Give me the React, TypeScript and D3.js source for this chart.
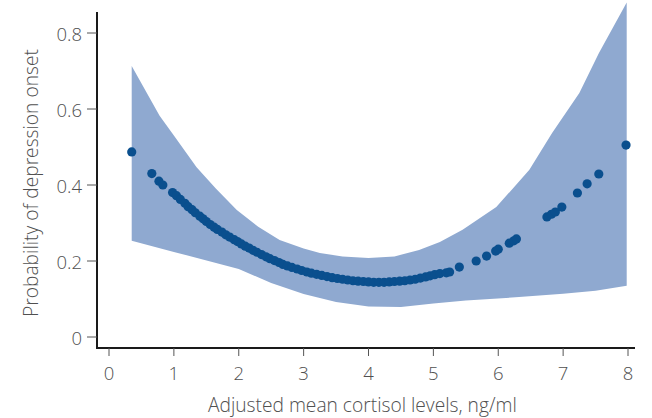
import React from "react";
import * as d3 from "d3";

const xTicks = [0, 1, 2, 3, 4, 5, 6, 7, 8];
const yTicks = [0, 0.2, 0.4, 0.6, 0.8];
const yTickLabels = ["0", "0.2", "0.4", "0.6", "0.8"];

const upperX = [0.35, 0.78, 1.0, 1.35, 1.65, 1.97, 2.3, 2.63, 3.0, 3.25, 3.6, 4.0, 4.4, 4.78, 5.1, 5.45, 5.97, 6.48, 6.83, 7.25, 7.55, 7.98];
const upperY = [0.713, 0.582, 0.53, 0.447, 0.39, 0.334, 0.29, 0.255, 0.233, 0.221, 0.212, 0.208, 0.212, 0.229, 0.25, 0.282, 0.342, 0.44, 0.537, 0.642, 0.747, 0.88];
const lowerX = [0.35, 1.0, 2.0, 2.5, 3.0, 3.5, 4.0, 4.5, 5.0, 5.5, 6.32, 7.0, 7.5, 7.98];
const lowerY = [0.253, 0.224, 0.179, 0.142, 0.113, 0.092, 0.08, 0.079, 0.088, 0.096, 0.105, 0.114, 0.122, 0.135];

const pointX = [0.35, 0.66, 0.77, 0.83, 0.98, 1.04, 1.1, 1.17, 1.22, 1.28, 1.33, 1.4, 1.45, 1.5, 1.56, 1.62, 1.67, 1.74, 1.8, 1.86, 1.93, 1.98, 2.04, 2.1, 2.16, 2.22, 2.28, 2.35, 2.42, 2.48, 2.55, 2.62, 2.68, 2.75, 2.82, 2.9, 2.97, 3.05, 3.12, 3.2, 3.28, 3.36, 3.44, 3.52, 3.6, 3.68, 3.76, 3.84, 3.92, 4.0, 4.08, 4.16, 4.24, 4.32, 4.4, 4.48, 4.56, 4.64, 4.72, 4.8, 4.88, 4.95, 5.02, 5.1, 5.2, 5.25, 5.4, 5.66, 5.82, 5.96, 6.0, 6.17, 6.24, 6.28, 6.75, 6.82, 6.88, 6.98, 7.22, 7.37, 7.55, 7.97];
const pointY = [0.487, 0.43, 0.41, 0.4, 0.38, 0.372, 0.362, 0.352, 0.343, 0.335, 0.327, 0.318, 0.311, 0.304, 0.296, 0.289, 0.283, 0.276, 0.269, 0.263, 0.256, 0.251, 0.245, 0.239, 0.234, 0.228, 0.223, 0.217, 0.211, 0.206, 0.201, 0.196, 0.191, 0.187, 0.183, 0.179, 0.175, 0.171, 0.168, 0.165, 0.162, 0.159, 0.156, 0.154, 0.152, 0.15, 0.148, 0.147, 0.146, 0.145, 0.144, 0.144, 0.144, 0.145, 0.146, 0.147, 0.148, 0.15, 0.152, 0.155, 0.158, 0.161, 0.164, 0.167, 0.169, 0.171, 0.184, 0.2, 0.213, 0.226, 0.231, 0.247, 0.253, 0.258, 0.316, 0.323, 0.329, 0.342, 0.379, 0.403, 0.429, 0.505];

const W = 652;
const H = 418;
const textColor = "#505050";
const font = "'Open Sans', 'Noto Sans', sans-serif";

export default function App() {
  const x = d3.scaleLinear().domain([0, 8]).range([109, 628]);
  const y = d3.scaleLinear().domain([0, 0.8]).range([337, 33]);

  const upper = upperX.map((v, i) => [x(v), y(upperY[i])] as [number, number]);
  const lower = lowerX.map((v, i) => [x(v), y(lowerY[i])] as [number, number]).reverse();
  const bandPath = d3.line().curve(d3.curveLinearClosed)([...upper, ...lower]) || "";

  const axisY = 348;
  const axisX = 97;

  return (
    <svg
      width={W}
      height={H}
      style={{ position: "absolute", left: 0, top: 0, background: "#fff" }}
      fontFamily={font}
    >
      <path d={bandPath} fill="#8fa9d0" />
      {pointX.map((px, i) => (
        <circle key={i} cx={x(px)} cy={y(pointY[i])} r={4.6} fill="#0a4f8e" />
      ))}
      <line x1={axisX} x2={axisX} y1={12} y2={axisY + 1} stroke="#1a1a1a" strokeWidth={2} />
      <line x1={axisX - 1} x2={635} y1={axisY} y2={axisY} stroke="#1a1a1a" strokeWidth={2} />
      {yTicks.map((t, i) => (
        <g key={t}>
          <line x1={axisX - 10} x2={axisX} y1={y(t)} y2={y(t)} stroke="#555" strokeWidth={1} />
          <text
            x={82}
            y={y(t)}
            textAnchor="end"
            dominantBaseline="central"
            fontSize={18.5}
            fontWeight={300}
            fill={textColor}
          >
            {yTickLabels[i]}
          </text>
        </g>
      ))}
      {xTicks.map((t) => (
        <g key={t}>
          <line x1={x(t)} x2={x(t)} y1={axisY} y2={axisY + 8} stroke="#555" strokeWidth={1} />
          <text
            x={x(t)}
            y={372}
            textAnchor="middle"
            dominantBaseline="central"
            fontSize={18.5}
            fontWeight={300}
            fill={textColor}
          >
            {t}
          </text>
        </g>
      ))}
      <text x={208} y={404} dominantBaseline="central" fontSize={19.2} fontWeight={300} fill={textColor}>
        Adjusted mean cortisol levels, ng/ml
      </text>
      <text
        transform={`translate(30,183) rotate(-90)`}
        textAnchor="middle"
        dominantBaseline="central"
        fontSize={19.2}
        fontWeight={300}
        fill={textColor}
      >
        Probability of depression onset
      </text>
    </svg>
  );
}
